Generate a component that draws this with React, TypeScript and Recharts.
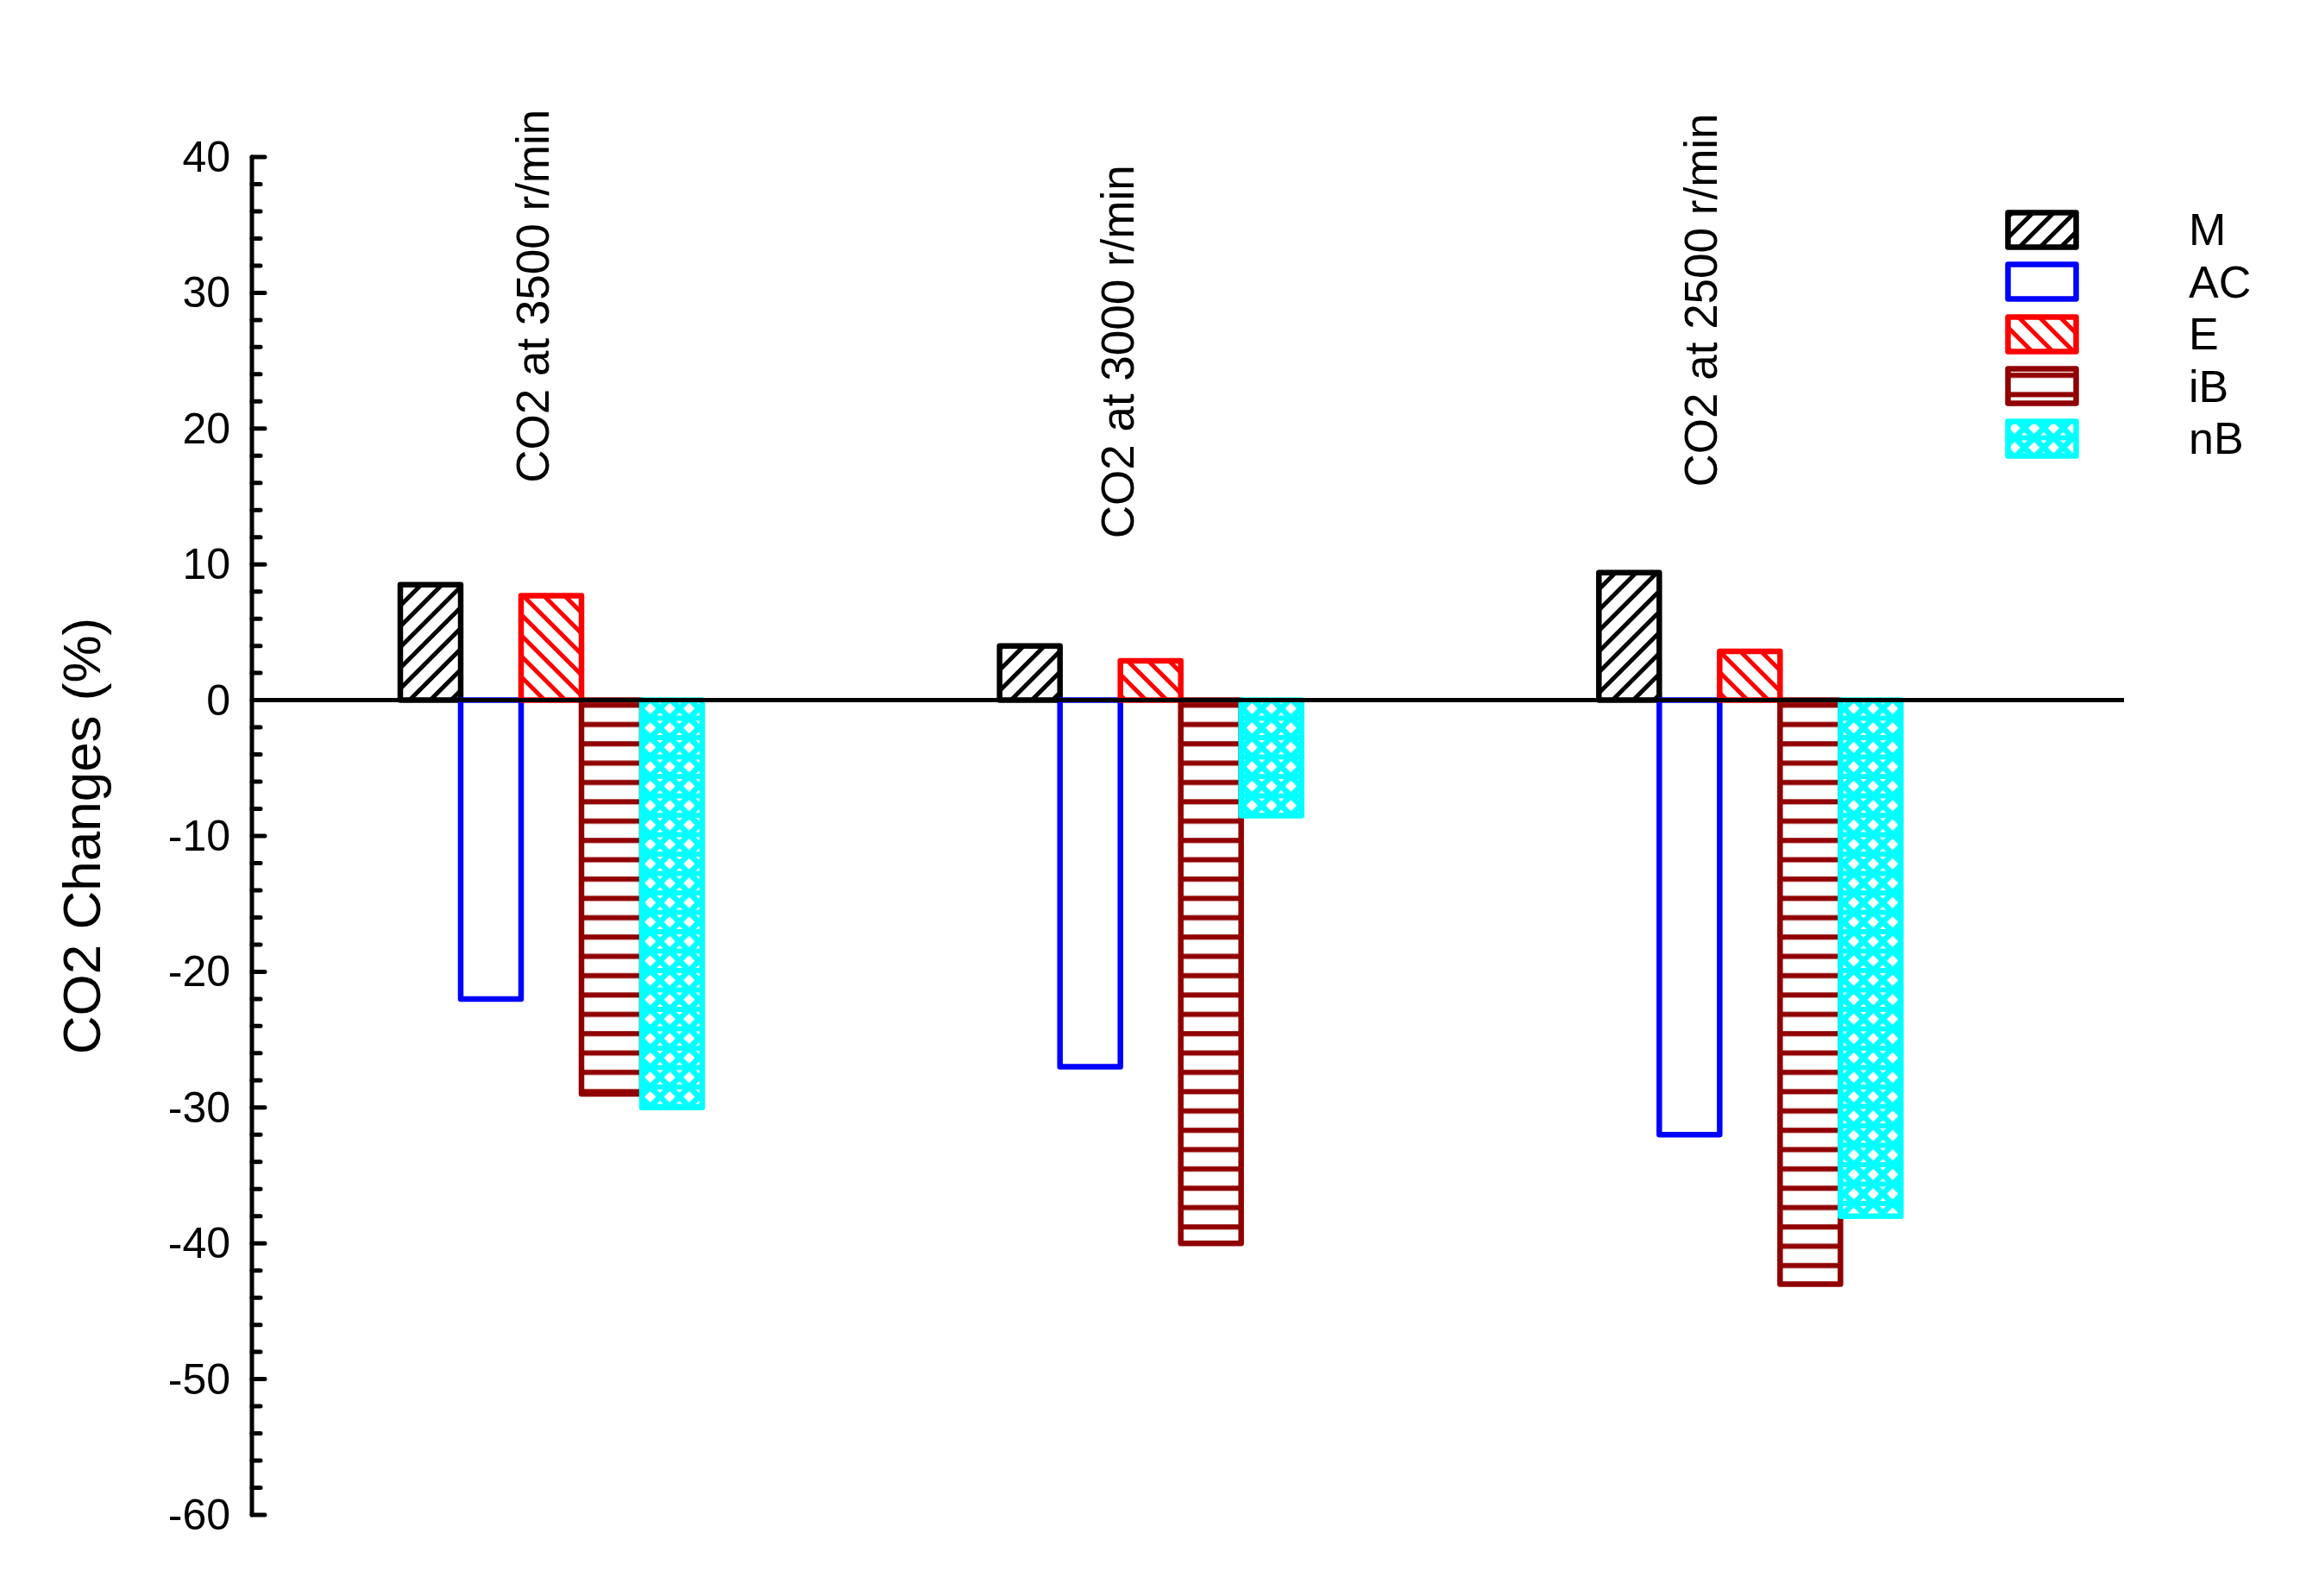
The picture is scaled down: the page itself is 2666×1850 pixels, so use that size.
import React from 'react';
import {
  BarChart,
  Bar,
  XAxis,
  YAxis,
  ReferenceLine,
  ReferenceDot,
  Label
} from 'recharts';

// speed conditions (also drawn as the rotated captions above each group)
const categories = ['CO2 at 3500 r/min', 'CO2 at 3000 r/min', 'CO2 at 2500 r/min'];

// CO2 change (%) per fuel blend, one value per category
const mValues = [8.5, 4.0, 9.4];
const acValues = [-22, -27, -32];
const eValues = [7.7, 2.9, 3.6];
const ibValues = [-29, -40, -43];
const nbValues = [-30, -8.5, -38];

const majorTicks = [-60, -50, -40, -30, -20, -10, 0, 10, 20, 30, 40];

// y value where each rotated caption starts, and its sideways nudge
const captionBase = [16, 11.9, 15.7];
const captionShift = [-22, -38, -57];

const FONT = '"Liberation Sans", Arial, sans-serif';

const series = [
  { key: 'M', color: '#000000' },
  { key: 'AC', color: '#0000ff' },
  { key: 'E', color: '#ff0000' },
  { key: 'iB', color: '#900000' },
  { key: 'nB', color: '#00ffff' },
];

const data = categories.map((name, i) => ({
  name,
  M: mValues[i],
  AC: acValues[i],
  E: eValues[i],
  iB: ibValues[i],
  nB: nbValues[i],
}));

// every 2 units, majors labelled
const allTicks: number[] = [];
for (let i = 0; i < majorTicks.length - 1; i++) {
  for (let s = 0; s < 5; s++) allTicks.push(majorTicks[i] + s * 2);
}
allTicks.push(majorTicks[majorTicks.length - 1]);

// corner triangles of the nB lattice (the corner diamond split by a band)
const tri = (cx: number, cy: number, dir: number) =>
  `${cx - 3.6},${cy + dir * 3} ${cx + 3.6},${cy + dir * 3} ${cx},${cy + dir * 6.6}`;

const Patterns = ({ prefix }: { prefix: string }) => (
  <defs>
    <pattern id={`${prefix}M`} width="17" height="17" patternUnits="userSpaceOnUse" patternTransform="rotate(-45)">
      <rect width="17" height="17" fill="#fff" />
      <line x1="0" y1="8.5" x2="17" y2="8.5" stroke="#000" strokeWidth="5" />
    </pattern>
    <pattern id={`${prefix}AC`} width="10" height="10" patternUnits="userSpaceOnUse">
      <rect width="10" height="10" fill="#fff" />
    </pattern>
    <pattern id={`${prefix}E`} width="17" height="17" patternUnits="userSpaceOnUse" patternTransform="rotate(45)">
      <rect width="17" height="17" fill="#fff" />
      <line x1="0" y1="8.5" x2="17" y2="8.5" stroke="#ff0000" strokeWidth="5" />
    </pattern>
    <pattern id={`${prefix}iB`} width="22.4" height="22.4" patternUnits="userSpaceOnUse">
      <rect width="22.4" height="22.4" fill="#fff" />
      <line x1="0" y1="11" x2="22.4" y2="11" stroke="#900000" strokeWidth="6" />
    </pattern>
    <pattern id={`${prefix}nB`} width="22.5" height="22.5" patternUnits="userSpaceOnUse">
      <rect width="22.5" height="22.5" fill="#00ffff" />
      <polygon points="11.25,4.65 17.85,11.25 11.25,17.85 4.65,11.25" fill="#fff" />
      <polygon points={tri(0, 0, 1)} fill="#fff" />
      <polygon points={tri(22.5, 0, 1)} fill="#fff" />
      <polygon points={tri(0, 22.5, -1)} fill="#fff" />
      <polygon points={tri(22.5, 22.5, -1)} fill="#fff" />
    </pattern>
  </defs>
);

const YTick = (props: any) => {
  const { x, y, payload } = props;
  const v = payload.value;
  const major = v % 10 === 0;
  return (
    <g>
      <line x1={x} x2={x + (major ? 15 : 10)} y1={y} y2={y} stroke="#000" strokeWidth={5} strokeLinecap="round" />
      {major && (
        <text x={x - 25} y={y} textAnchor="end" dominantBaseline="central" fontSize={50} fontFamily={FONT} fill="#000">
          {v}
        </text>
      )}
    </g>
  );
};

const Caption = (text: string, shift: number) => (p: any) => {
  const vb = p.viewBox;
  const cx = vb.x + vb.width / 2 + shift;
  const cy = vb.y + vb.height / 2;
  return (
    <text
      x={cx}
      y={cy}
      transform={`rotate(-90 ${cx} ${cy})`}
      textAnchor="start"
      dominantBaseline="central"
      fontSize={53}
      fontFamily={FONT}
      fill="#000"
    >
      {text}
    </text>
  );
};

const App: React.FC = () => {
  return (
    <div style={{ position: 'absolute', left: 0, top: 0, width: 2666, height: 1850, background: '#fff' }}>
      <BarChart
        width={2666}
        height={1850}
        data={data}
        margin={{ top: 182, right: 204, bottom: 94, left: 0 }}
        barGap={0}
        barSize={70}
      >
        <Patterns prefix="pat-" />
        <XAxis dataKey="name" hide padding={{ left: 0, right: 86 }} />
        <YAxis
          width={292}
          domain={[-60, 40]}
          ticks={allTicks}
          interval={0}
          tickSize={0}
          tickMargin={0}
          tickLine={false}
          tick={<YTick />}
          axisLine={{ stroke: '#000', strokeWidth: 5, strokeLinecap: 'round' }}
        >
          <Label
            content={(p: any) => {
              const vb = p.viewBox;
              const cx = vb.x + 94;
              const cy = vb.y + vb.height / 2;
              return (
                <text
                  x={cx}
                  y={cy}
                  transform={`rotate(-90 ${cx} ${cy})`}
                  textAnchor="middle"
                  dominantBaseline="central"
                  fontSize={62}
                  fontFamily={FONT}
                  fill="#000"
                >
                  CO2 Changes (%)
                </text>
              );
            }}
          />
        </YAxis>
        <ReferenceLine y={0} stroke="#000" strokeWidth={5} />
        {series.map((s) => (
          <Bar
            key={s.key}
            dataKey={s.key}
            fill={`url(#pat-${s.key})`}
            stroke={s.color}
            strokeWidth={6.5}
            strokeLinejoin="round"
            isAnimationActive={false}
          />
        ))}
        {categories.map((c, i) => (
          <ReferenceDot
            key={c}
            x={c}
            y={captionBase[i]}
            r={0}
            fill="none"
            stroke="none"
            label={Caption(c, captionShift[i])}
          />
        ))}
      </BarChart>
      <div style={{ position: 'absolute', left: 2324, top: 236, fontFamily: FONT }}>
        {series.map((s) => (
          <div key={s.key} style={{ display: 'flex', alignItems: 'center', height: 60.5 }}>
            <svg width={86} height={47} style={{ display: 'block' }}>
              <Patterns prefix={`leg-${s.key}-`} />
              <rect
                x={3.5}
                y={3.5}
                width={79}
                height={40}
                fill={`url(#leg-${s.key}-${s.key})`}
                stroke={s.color}
                strokeWidth={6.5}
                strokeLinejoin="round"
              />
            </svg>
            <span style={{ marginLeft: 127, fontSize: 52, lineHeight: 1, color: '#000' }}>{s.key}</span>
          </div>
        ))}
      </div>
    </div>
  );
};

export default App;
